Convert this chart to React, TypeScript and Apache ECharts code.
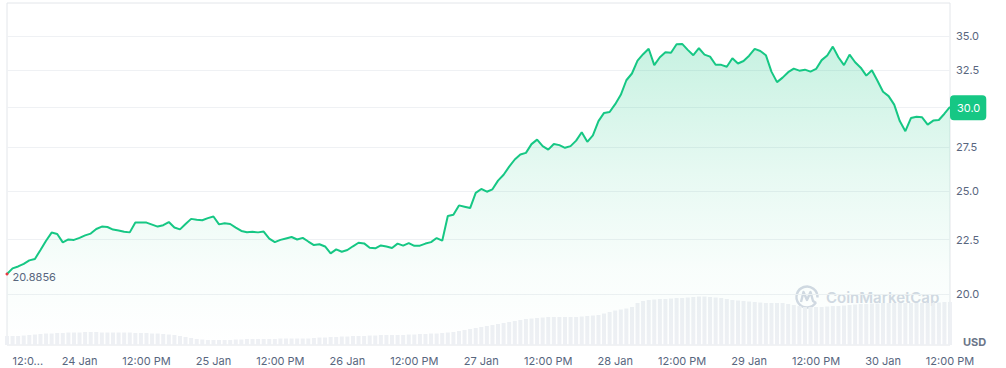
import React, { useEffect, useRef } from "react";
import * as echarts from "echarts";

// Hours relative to 24 Jan 00:00 (first sample is 23 Jan ~11:00)
const START_HOUR = -13;

// Hourly price (USD)
const prices = [
  20.8856, 21.14, 21.23, 21.35, 21.51, 21.58, 22.0, 22.45, 22.85, 22.78,
  22.37, 22.51, 22.49, 22.59, 22.71, 22.8, 23.03, 23.15, 23.13, 23.0,
  22.95, 22.89, 22.86, 23.35, 23.35, 23.35, 23.25, 23.15, 23.22, 23.38,
  23.1, 23.01, 23.28, 23.54, 23.5, 23.47, 23.58, 23.66, 23.26, 23.32,
  23.28, 23.1, 22.93, 22.87, 22.89, 22.86, 22.9, 22.55, 22.38, 22.49,
  22.56, 22.63, 22.51, 22.59, 22.41, 22.24, 22.28, 22.17, 21.84, 22.03,
  21.92, 22.0, 22.18, 22.35, 22.32, 22.11, 22.08, 22.22, 22.17, 22.1,
  22.31, 22.21, 22.33, 22.2, 22.21, 22.31, 22.38, 22.58, 22.45, 23.69,
  23.75, 24.24, 24.17, 24.1, 24.91, 25.12, 24.97, 25.1, 25.58, 25.91,
  26.37, 26.78, 27.07, 27.17, 27.69, 27.96, 27.57, 27.36, 27.7, 27.63,
  27.47, 27.57, 27.9, 28.41, 27.83, 28.22, 29.11, 29.63, 29.69, 30.2,
  30.82, 31.81, 32.28, 33.19, 33.66, 34.06, 32.87, 33.44, 33.81, 33.77,
  34.4, 34.42, 33.98, 33.59, 34.1, 33.63, 33.48, 32.9, 32.89, 32.76,
  33.37, 32.99, 33.17, 33.55, 34.05, 33.9, 33.59, 32.41, 31.68, 31.99,
  32.37, 32.62, 32.48, 32.55, 32.41, 32.6, 33.23, 33.57, 34.22, 33.44,
  32.87, 33.63, 33.08, 32.69, 32.13, 32.51, 31.78, 31.03, 30.73, 30.17,
  29.11, 28.48, 29.3, 29.39, 29.35, 28.89, 29.14, 29.18, 29.58, 30.02,
];

// Hourly 24h volume (relative units)
const volumes = [
  9, 9, 9, 9.5, 10, 10.5, 11, 11.5, 11.5, 12,
  12, 12.5, 12.5, 12.5, 13, 13, 13, 12.5, 12.5, 12.5,
  12.5, 12.5, 12.5, 12, 12, 12, 11.5, 11.5, 11, 10.5,
  10, 9, 8, 7, 6, 5.5, 5, 5, 5, 5,
  5, 5.5, 5.5, 6, 6, 6, 6, 6, 6, 6.5,
  6.5, 6.5, 6.5, 6.5, 6.5, 7, 7.5, 7.5, 8, 8,
  8.5, 8.5, 9, 9, 9, 9.5, 9.5, 10, 10, 10,
  10, 10, 10.5, 10.5, 11, 11, 11.5, 11.5, 12, 12.5,
  13, 14, 15, 16, 17, 18, 19, 20, 21, 22,
  23, 24, 25, 26, 26.5, 27, 27.5, 28, 28, 28,
  28, 28, 28, 28.5, 29, 29.5, 30, 31.5, 33, 34.5,
  35.5, 36.5, 38, 42, 44, 45, 45.5, 46, 46, 46.5,
  47, 47, 47.5, 48, 48.5, 48.5, 48, 47.5, 47, 46,
  45, 44.5, 44, 43.5, 43, 42.5, 42, 42, 42, 42,
  41, 40, 39, 38, 38, 38, 38, 38.5, 39, 39,
  39.5, 40, 40.5, 41, 41, 41.5, 41.5, 42, 42, 42,
  42, 42, 42, 42, 42, 42, 42, 42.5, 43, 43,
];
const VOLUME_AXIS_MAX = 342;

const priceTicks = [20, 22.5, 25, 27.5, 30, 32.5, 35];
const PRICE_AXIS_MIN = 17.9;
const PRICE_AXIS_MAX = 37.62;

const xLabelHours = [-12, 0, 12, 24, 36, 48, 60, 72, 84, 96, 108, 120, 132, 144, 156];
const X_MIN = -13;
const X_MAX = 156;

const GREEN = "#16c784";
const LABEL = "#58667e";
const FONT = "Inter, 'Noto Sans', sans-serif";

function hourLabel(h: number): string {
  if (h === xLabelHours[0]) return "12:0...";
  const r = ((h % 24) + 24) % 24;
  if (r === 12) return "12:00 PM";
  const day = 24 + Math.floor(h / 24);
  return `${day} Jan`;
}

export default function App() {
  const ref = useRef<HTMLDivElement>(null);
  useEffect(() => {
    if (!ref.current) return;
    const chart = echarts.init(ref.current, undefined, { renderer: "svg" });
    const hours = prices.map((_, i) => START_HOUR + i);
    const lnPrice = prices.map((p, i) => [hours[i], Math.log(p)]);
    const volData = volumes.map((v, i) => [hours[i], v]);
    const last = prices[prices.length - 1];
    chart.setOption({
      animation: false,
      textStyle: { fontFamily: FONT },
      grid: {
        left: 7,
        right: 56,
        top: 3,
        bottom: 23,
        show: true,
        borderColor: "#e3e6ea",
        borderWidth: 1,
        backgroundColor: "transparent",
      },
      xAxis: {
        type: "value",
        min: X_MIN,
        max: X_MAX,
        axisLine: { show: false },
        axisTick: { show: false, customValues: xLabelHours },
        splitLine: { show: false },
        axisLabel: {
          customValues: xLabelHours,
          formatter: (v: number) => hourLabel(v),
          color: LABEL,
          fontSize: 11,
          fontFamily: FONT,
          margin: 10,
          alignMinLabel: "left",
        },
      },
      yAxis: [
        {
          type: "value",
          position: "right",
          min: Math.log(PRICE_AXIS_MIN),
          max: Math.log(PRICE_AXIS_MAX),
          axisLine: { show: false },
          axisTick: { show: false, customValues: priceTicks.map((t) => Math.log(t)) },
          splitLine: { show: true, lineStyle: { color: "#eff1f4", width: 1 } },
          axisLabel: {
            customValues: priceTicks.map((t) => Math.log(t)),
            formatter: (v: number) => Math.exp(v).toFixed(1),
            color: LABEL,
            fontSize: 11,
            fontFamily: FONT,
            margin: 6,
          },
        },
        {
          type: "value",
          min: 0,
          max: VOLUME_AXIS_MAX,
          show: false,
          splitLine: { show: false },
        },
      ],
      series: [
        {
          type: "bar",
          yAxisIndex: 1,
          data: volData,
          barWidth: 4,
          itemStyle: { color: "#eef0f4" },
          silent: true,
          z: 1,
        },
        {
          type: "line",
          data: lnPrice,
          clip: false,
          showSymbol: false,
          symbol: "none",
          lineStyle: { color: GREEN, width: 2 },
          areaStyle: {
            color: new echarts.graphic.LinearGradient(0, 0, 0, 1, [
              { offset: 0, color: "rgba(22,199,132,0.34)" },
              { offset: 0.45, color: "rgba(22,199,132,0.14)" },
              { offset: 0.75, color: "rgba(22,199,132,0.04)" },
              { offset: 1, color: "rgba(22,199,132,0)" },
            ]),
          },
          z: 3,
          markPoint: {
            silent: true,
            symbol: "circle",
            symbolSize: 3,
            itemStyle: { color: "#ea3943" },
            label: {
              show: true,
              position: "right",
              distance: 4,
              offset: [0, 3],
              formatter: () => String(prices[0]),
              color: LABEL,
              fontSize: 11,
              fontFamily: FONT,
            },
            data: [{ coord: [hours[0], Math.log(prices[0])] }],
          },
          markLine: {
            silent: true,
            symbol: ["none", "none"],
            lineStyle: { color: "rgba(0,0,0,0)", width: 0, type: "solid" },
            label: {
              show: true,
              position: "end",
              distance: 0,
              formatter: () => last.toFixed(1),
              backgroundColor: GREEN,
              color: "#ffffff",
              padding: [7, 6, 7, 7],
              borderRadius: 4,
              fontSize: 11,
              fontFamily: FONT,
            },
            data: [{ yAxis: Math.log(last) }],
          },
        },
      ],
      graphic: [
        {
          type: "arc",
          shape: { cx: 807, cy: 297, r: 10.5, startAngle: 0.55, endAngle: Math.PI * 2 + 0.05, clockwise: true },
          style: { stroke: "#d3d9e3", lineWidth: 2.4, fill: "none" },
          silent: true,
        },
        {
          type: "polyline",
          shape: { points: [[801, 302], [803.5, 292], [807, 300], [810.5, 292], [813, 301], [816, 303]] },
          style: { stroke: "#d3d9e3", lineWidth: 2.4, fill: "none", lineJoin: "round" },
          silent: true,
        },
        {
          type: "text",
          x: 826,
          y: 297,
          style: {
            text: "CoinMarketCap",
            fill: "#d3d9e3",
            font: `600 15px ${FONT}`,
            verticalAlign: "middle",
          },
          silent: true,
        },
        {
          type: "text",
          x: 963,
          y: 342,
          style: {
            text: "USD",
            fill: "#6b7588",
            font: `700 11px ${FONT}`,
            verticalAlign: "middle",
          },
          silent: true,
        },
      ],
    });
    return () => chart.dispose();
  }, []);
  return (
    <div
      ref={ref}
      style={{ position: "absolute", left: 0, top: 0, width: 1006, height: 368, background: "#fff" }}
    />
  );
}
